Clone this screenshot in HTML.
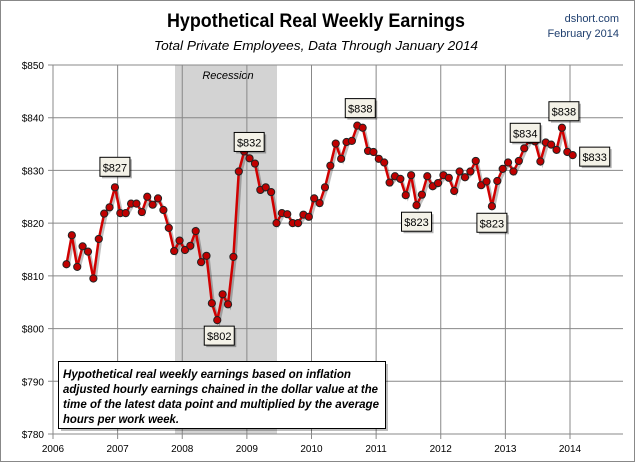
<!DOCTYPE html>
<html><head><meta charset="utf-8"><style>
body{margin:0;background:#fff;}
svg text{font-family:"Liberation Sans",sans-serif;}
</style></head><body>
<svg id="chart" width="635" height="462" xmlns="http://www.w3.org/2000/svg">
<rect x="0.5" y="0.5" width="634" height="461" fill="#fff" stroke="#888"/>
<text x="316" y="27" text-anchor="middle" font-size="19" font-weight="bold" fill="#000" textLength="298" lengthAdjust="spacingAndGlyphs">Hypothetical Real Weekly Earnings</text>
<text x="316" y="50" text-anchor="middle" font-size="13" font-style="italic" fill="#000" textLength="324" lengthAdjust="spacingAndGlyphs">Total Private Employees, Data Through January 2014</text>
<text x="619" y="22" text-anchor="end" font-size="11" fill="#1f3f6f">dshort.com</text>
<text x="619" y="37" text-anchor="end" font-size="11" fill="#1f3f6f">February 2014</text>
<rect x="175" y="65" width="102" height="369" fill="#d3d3d3"/>
<text x="228" y="79" text-anchor="middle" font-size="11" font-style="italic" fill="#000">Recession</text>
<g id="grid"></g>
<g id="series"></g>
<g id="labels"></g>
<g>
<rect x="61" y="364" width="327" height="67" fill="#000" opacity="0.25"/>
<rect x="58.5" y="361.5" width="327" height="67" fill="#fff" stroke="#000"/>
<text x="63" y="378" font-size="11.5" font-style="italic" font-weight="bold" fill="#000" textLength="288" lengthAdjust="spacingAndGlyphs">Hypothetical real weekly earnings  based on inflation</text>
<text x="63" y="393" font-size="11.5" font-style="italic" font-weight="bold" fill="#000" textLength="315" lengthAdjust="spacingAndGlyphs">adjusted hourly earnings chained in the dollar value at the</text>
<text x="63" y="408" font-size="11.5" font-style="italic" font-weight="bold" fill="#000" textLength="316" lengthAdjust="spacingAndGlyphs">time of the latest data point and multiplied by the average</text>
<text x="63" y="423" font-size="11.5" font-style="italic" font-weight="bold" fill="#000" textLength="116" lengthAdjust="spacingAndGlyphs">hours per work week.</text>
</g>
</svg>
<script>
const yTicks=[780,790,800,810,820,830,840,850];
const xTicks=[2006,2007,2008,2009,2010,2011,2012,2013,2014];
const startYear=2006, startMonth=2;
const values=[812.2,817.7,811.7,815.6,814.6,809.5,817.0,821.8,823.0,826.8,821.9,821.9,823.7,823.7,822.1,825.0,823.5,824.7,822.5,819.1,814.7,816.7,814.9,815.7,818.5,812.6,813.8,804.8,801.6,806.5,804.6,813.6,829.8,
833.6,832.3,831.3,826.3,826.8,825.9,820.0,821.9,821.7,820.0,820.0,821.6,821.2,824.7,823.8,826.8,830.9,835.1,832.2,835.4,835.6,838.5,838.1,833.7,833.5,832.2,831.5,827.7,828.9,828.4,825.3,829.1,823.4,825.4,828.9,827.0,827.6,
829.1,828.6,826.1,829.8,828.7,829.8,831.8,827.2,827.9,823.2,828.0,830.3,831.5,829.8,831.8,834.2,835.8,835.5,831.7,835.3,834.9,833.9,838.1,833.5,832.9];
const calloutIdx=[9,33,28,54,65,79,85,92,94];
const calloutText=["$827","$832","$802","$838","$823","$823","$834","$838","$833"];
const calloutDx=[0,5,2,3,0,0,1,2,22];
const calloutDy=[-20,-9,16,-17,17,17,-15,-16,2];
const X0=53,X1=623,Y0=434,Y1=65;
const xs=t=>X0+(t-2006)*(570-53)/8;
const ys=v=>Y0-(v-780)*(Y0-Y1)/70;
const NS="http://www.w3.org/2000/svg";
function mk(tag,attrs,parent){const e=document.createElementNS(NS,tag);for(const k in attrs)e.setAttribute(k,attrs[k]);parent.appendChild(e);return e;}
const grid=document.getElementById('grid');
yTicks.forEach(v=>{
 const l=mk('line',{x1:X0-5,x2:X1,y1:ys(v),y2:ys(v),stroke:'#888','stroke-width':1},grid);
 
 
 const t=mk('text',{x:X0-9,y:ys(v)+4,'text-anchor':'end','font-size':10,fill:'#000'},grid);
 t.textContent='$'+v;
 
 
});
xTicks.forEach(y=>{
 const l=mk('line',{x1:xs(y),x2:xs(y),y1:Y1,y2:Y0+5,stroke:'#888','stroke-width':1},grid);
 
 
 const t=mk('text',{x:xs(y),y:Y0+18,'text-anchor':'middle','font-size':10,fill:'#000'},grid);
 t.textContent=y;
 
 
});
const ax=mk('line',{x1:X0,x2:X1,y1:Y0,y2:Y0,stroke:'#888'},grid);


const ay=mk('line',{x1:X0,x2:X0,y1:Y1,y2:Y0,stroke:'#888'},grid);


const px=i=>xs(startYear+(startMonth+i+0.5)/12);
const s=document.getElementById('series');
const pts=values.map((v,i)=>px(i).toFixed(1)+','+ys(v).toFixed(1)).join(' ');
const shadow=mk('polyline',{points:pts,fill:'none',stroke:'#000','stroke-opacity':0.25,'stroke-width':2.5,transform:'translate(2,2)'},s);


const line=mk('polyline',{points:pts,fill:'none',stroke:'#d00000','stroke-width':2.5},s);


values.forEach((v,i)=>{
 const c=mk('circle',{cx:px(i),cy:ys(v),r:3.6,fill:'#c00000',stroke:'#222','stroke-width':1},s);
 
 
});
const lg=document.getElementById('labels');
calloutIdx.forEach((i,k)=>{
 const cx=px(i)+calloutDx[k], cy=ys(values[i])+calloutDy[k];
 const g=mk('g',{},lg);
 
 
 mk('rect',{x:cx-13,y:cy-8,width:30,height:19,fill:'#000',opacity:0.3},g);
 mk('rect',{x:cx-15,y:cy-10,width:30,height:19,fill:'#f4f2e8',stroke:'#000'},g);
 const t=mk('text',{x:cx,y:cy+4,'text-anchor':'middle','font-size':11,fill:'#000'},g);
 t.textContent=calloutText[k];
});
</script>
</body></html>
